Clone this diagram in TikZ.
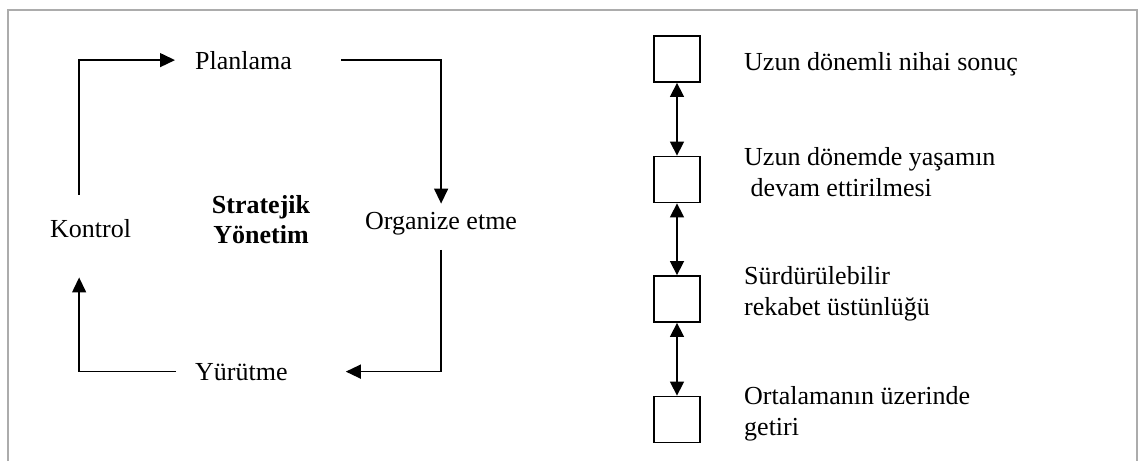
\documentclass[tikz,border=0pt]{standalone}
\usepackage{fontspec}
\setmainfont{Liberation Serif}
\usetikzlibrary{arrows.meta}
\begin{document}
\begin{tikzpicture}[x=1pt,y=-1pt,
  lbl/.style={inner sep=0pt, font=\fontsize{26}{30.5}\selectfont, anchor=base west},
  ttl/.style={inner sep=0pt, font=\fontsize{26}{30}\selectfont\bfseries, align=center, anchor=base},
  note/.style={lbl, align=left},
  stage/.style={draw, line width=1.8pt, minimum size=46pt, inner sep=0pt},
  flow/.style={line width=1.4pt, -{Triangle[length=15pt,width=14pt]}},
  link/.style={line width=1.5pt, {Triangle[length=14pt,width=14pt]}-{Triangle[length=14pt,width=14pt]}},
  frame/.style={draw=gray!65, line width=1.5pt}]
\useasboundingbox (0,0) rectangle (1138,461);
% open frame: left, top and right edges
\draw[frame] (8,461) -- (8,10) -- (1137,10) -- (1137,461);

% management cycle (multi-line nodes sit on their last baseline)
\node[lbl] (plan) at (195,69) {Planlama};
\node[lbl] (org) at (365,229) {Organize etme};
\node[lbl] (yur) at (195,380) {Yürütme};
\node[lbl] (kon) at (50,237) {Kontrol};
\node[ttl] (sy) at (261,243) {Stratejik\\Yönetim};

\draw[flow] ([xshift=49pt]plan.east) -| ([yshift=8pt]org.north);
\draw[flow] ([yshift=-15pt]org.south) |- ([xshift=58pt]yur.east);
\draw[flow] ([xshift=-19pt]yur.west) -| ([xshift=-11.5pt,yshift=-40pt]kon.south);
\draw[flow] ([xshift=-11.5pt,yshift=24pt]kon.north) |- ([xshift=-20pt]plan.west);

% outcome ladder
\node[stage] (b1) at (677,59) {};
\node[stage] (b2) at (677,179.5) {};
\node[stage] (b3) at (677,299) {};
\node[stage] (b4) at (677,419.5) {};
\draw[link] (b1) -- (b2);
\draw[link] (b2) -- (b3);
\draw[link] (b3) -- (b4);

\node[lbl] (t1) at (744,70) {Uzun dönemli nihai sonuç};
\node[note] (t2) at (744,196) {Uzun dönemde yaşamın\\\hspace*{0.25em}devam ettirilmesi};
\node[note] (t3) at (744,315) {Sürdürülebilir\\rekabet üstünlüğü};
\node[note] (t4) at (744,435) {Ortalamanın üzerinde\\getiri};
\end{tikzpicture}
\end{document}
